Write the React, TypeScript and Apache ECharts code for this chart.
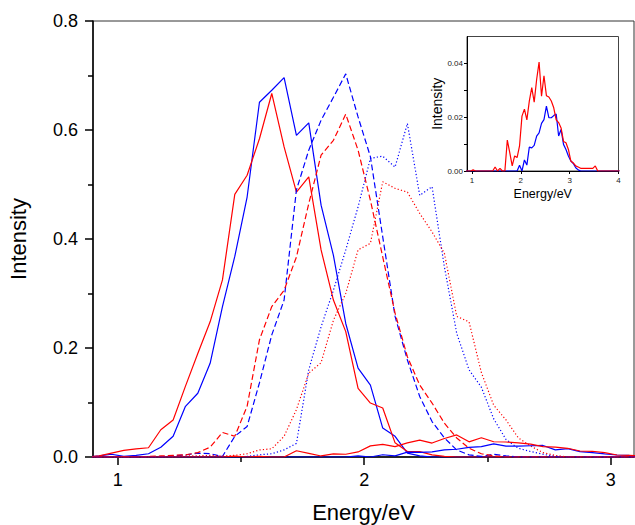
import React, { useEffect, useRef } from "react";
import * as echarts from "echarts";

// Energy grid (eV), 0.05 eV step
const energy: number[] = Array.from({ length: 64 }, (_, i) => +(0.875 + 0.05 * i).toFixed(3));

// Main spectra (indices follow energy[])
const redSolid = [0, 0.002, 0.007, 0.012, 0.015, 0.017, 0.05, 0.068, 0.13, 0.19, 0.248, 0.325, 0.482, 0.517, 0.584, 0.667, 0.569, 0.486, 0.514, 0.38, 0.288, 0.23, 0.126, 0.099, 0.09, 0.026, 0.01, 0.01, 0.004, 0.001, 0, 0, 0, 0, 0, 0, 0, 0, 0, 0, 0, 0, 0, 0, 0, 0];
const blueSolid = [0, 0.002, 0.005, 0.001, 0.003, 0.006, 0.018, 0.038, 0.093, 0.117, 0.172, 0.276, 0.368, 0.477, 0.651, 0.673, 0.696, 0.59, 0.613, 0.462, 0.37, 0.245, 0.163, 0.132, 0.053, 0.038, 0.007, 0.002, 0, 0, 0, 0, 0, 0, 0, 0, 0, 0, 0, 0, 0, 0, 0, 0, 0, 0];
const redDashed = [0, 0, 0, 0, 0, 0.001, 0.002, 0.003, 0.004, 0.008, 0.018, 0.045, 0.038, 0.093, 0.215, 0.276, 0.306, 0.367, 0.465, 0.554, 0.581, 0.629, 0.563, 0.471, 0.367, 0.264, 0.184, 0.132, 0.099, 0.062, 0.035, 0.016, 0.006, 0.002, 0, 0, 0, 0, 0, 0, 0, 0, 0, 0, 0, 0];
const blueDashed = [0, 0, 0, 0, 0, 0, 0, 0.002, 0.004, 0.007, 0.006, 0.001, 0.038, 0.056, 0.136, 0.224, 0.288, 0.49, 0.563, 0.618, 0.66, 0.703, 0.624, 0.551, 0.404, 0.258, 0.178, 0.111, 0.065, 0.035, 0.013, 0.004, 0.001, 0.005, 0.002, 0, 0, 0, 0, 0, 0, 0, 0, 0, 0, 0];
const redDotted = [0, 0, 0, 0, 0, 0, 0, 0, 0.002, 0.002, 0.003, 0.002, 0.003, 0.006, 0.013, 0.015, 0.038, 0.087, 0.154, 0.173, 0.251, 0.3, 0.38, 0.392, 0.505, 0.493, 0.486, 0.447, 0.413, 0.374, 0.258, 0.248, 0.155, 0.095, 0.068, 0.035, 0.02, 0.008, 0.003, 0, 0, 0, 0, 0, 0, 0];
const blueDotted = [0, 0, 0, 0, 0, 0, 0, 0, 0, 0, 0, 0, 0, 0.001, 0.004, 0.006, 0.013, 0.025, 0.16, 0.239, 0.306, 0.38, 0.459, 0.548, 0.552, 0.532, 0.612, 0.48, 0.496, 0.349, 0.227, 0.16, 0.128, 0.07, 0.032, 0.016, 0.01, 0.005, 0.001, 0, 0, 0, 0, 0, 0, 0];

// Weak spectra (shown in main plot and in the inset)
const redWeak = [0, 0, 0, 0.0004, 0, 0, 0, 0, 0, 0, 0, 0, 0.0015, 0, 0.001, 0, 0, 0.0115, 0.0068, 0.0019, 0.0056, 0.005, 0.0093, 0.0204, 0.023, 0.019, 0.026, 0.031, 0.0256, 0.034, 0.0405, 0.0278, 0.0354, 0.028, 0.0275, 0.026, 0.0235, 0.019, 0.018, 0.016, 0.011, 0.0105, 0.008, 0.0037, 0.003, 0.0019, 0.0015, 0.001, 0.001, 0.001, 0.001, 0.001, 0.001, 0.0019, 0, 0, 0, 0, 0, 0, 0, 0, 0, 0];
const blueWeak = [0, 0, 0, 0, 0, 0, 0, 0, 0, 0, 0, 0, 0, 0, 0, 0, 0, 0, 0, 0, 0, 0, 0.0021, 0, 0.0041, 0.0022, 0.0089, 0.0086, 0.0095, 0.013, 0.0142, 0.0177, 0.0191, 0.0241, 0.0198, 0.0198, 0.0206, 0.0212, 0.013, 0.0154, 0.0099, 0.008, 0.0056, 0.0037, 0.0028, 0.0012, 0.0004, 0, 0, 0, 0, 0, 0, 0, 0, 0, 0, 0, 0, 0, 0, 0, 0, 0];

// Tick values
const mainXLabels = [1, 2, 3];
const mainXMinor = [1.5, 2.5];
const insetXTicks = [1, 2, 3, 4];
const insetYTicks = [0, 0.01, 0.02, 0.03, 0.04];
const insetYLabels = [0, 0.02, 0.04];

const RED = "#ff0000";
const BLUE = "#0000ff";
const FONT = "Liberation Sans, Arial, sans-serif";

const pairs = (vals: number[]) => vals.map((v, i) => [energy[i], v]);

export default function App() {
  const ref = useRef<HTMLDivElement>(null);
  useEffect(() => {
    if (!ref.current) return;
    const chart = echarts.init(ref.current, undefined, { renderer: "svg" });
    const line = (name: string, data: number[], color: string, type: any, xi: number, yi: number) => ({
      name,
      type: "line",
      xAxisIndex: xi,
      yAxisIndex: yi,
      data: pairs(data),
      showSymbol: false,
      symbol: "none",
      clip: true,
      lineStyle: { color, width: 1.2, type },
      itemStyle: { color },
    });
    const dashed = [6, 3];
    const dotted = [1.2, 2.2];
    chart.setOption({
      animation: false,
      backgroundColor: "#fff",
      textStyle: { fontFamily: FONT },
      grid: [
        { left: 93, top: 21, width: 541, height: 436, show: true, borderColor: "#333", borderWidth: 1, backgroundColor: "transparent", containLabel: false, outerBoundsMode: "none" },
        { left: 467, top: 36.5, width: 151.5, height: 134.5, show: true, borderColor: "#444", borderWidth: 1, backgroundColor: "#fff", z: 5, containLabel: false, outerBoundsMode: "none" },
      ],
      xAxis: [
        {
          type: "value", gridIndex: 0, min: 0.9, max: 3.094, position: "bottom",
          axisLine: { show: true, onZero: false, lineStyle: { color: "#000", width: 1.5 } },
          axisTick: { show: true, customValues: mainXLabels, length: 8, lineStyle: { color: "#000", width: 1.5 } },
          axisLabel: { customValues: mainXLabels, fontSize: 18, color: "#000", margin: 14, fontFamily: FONT },
          splitLine: { show: false },
          name: "Energy/eV", nameLocation: "middle", nameGap: 44,
          nameTextStyle: { fontSize: 22, color: "#000", fontFamily: FONT },
        },
        {
          type: "value", gridIndex: 0, min: 0.9, max: 3.094, position: "bottom", offset: 0,
          axisLine: { show: false, onZero: false },
          axisTick: { show: true, customValues: mainXMinor, length: 5, lineStyle: { color: "#000", width: 1.5 } },
          axisLabel: { show: false },
          splitLine: { show: false },
        },
        {
          type: "value", gridIndex: 1, min: 0.9, max: 4, position: "bottom",
          axisLine: { show: true, onZero: false, lineStyle: { color: "#000", width: 1 } },
          axisTick: { show: true, customValues: insetXTicks, length: 3, lineStyle: { color: "#000", width: 1 } },
          axisLabel: { customValues: insetXTicks, fontSize: 8, color: "#222", margin: 5, fontFamily: FONT },
          splitLine: { show: false },
          name: "Energy/eV", nameLocation: "middle", nameGap: 16,
          nameTextStyle: { fontSize: 12.5, color: "#000", fontFamily: FONT },
          z: 6,
        },
      ],
      yAxis: [
        {
          type: "value", gridIndex: 0, min: 0, max: 0.8, interval: 0.2,
          axisLine: { show: true, onZero: false, lineStyle: { color: "#000", width: 1.5 } },
          axisTick: { show: true, length: 8, lineStyle: { color: "#000", width: 1.5 } },
          minorTick: { show: true, splitNumber: 2, length: 5, lineStyle: { color: "#000", width: 1.5 } },
          axisLabel: { fontSize: 18, color: "#000", margin: 15, fontFamily: FONT, formatter: (v: number) => v.toFixed(1) },
          splitLine: { show: false },
          name: "Intensity", nameLocation: "middle", nameGap: 64, nameRotate: 90,
          nameTextStyle: { fontSize: 22, color: "#000", fontFamily: FONT },
        },
        {
          type: "value", gridIndex: 1, min: 0, max: 0.05,
          axisLine: { show: true, onZero: false, lineStyle: { color: "#000", width: 1 } },
          axisTick: { show: true, customValues: insetYTicks, length: 3, lineStyle: { color: "#000", width: 1 } },
          axisLabel: { customValues: insetYLabels, fontSize: 8, color: "#222", margin: 4, fontFamily: FONT, formatter: (v: number) => v.toFixed(2) },
          splitLine: { show: false },
          name: "Intensity", nameLocation: "middle", nameGap: 23, nameRotate: 90,
          nameTextStyle: { fontSize: 14, color: "#000", fontFamily: FONT },
          z: 6,
        },
      ],
      series: [
        line("blue solid", blueSolid, BLUE, "solid", 0, 0),
        line("red solid", redSolid, RED, "solid", 0, 0),
        line("blue dashed", blueDashed, BLUE, dashed, 0, 0),
        line("red dashed", redDashed, RED, dashed, 0, 0),
        line("blue dotted", blueDotted, BLUE, dotted, 0, 0),
        line("red dotted", redDotted, RED, dotted, 0, 0),
        line("blue weak", blueWeak, BLUE, "solid", 0, 0),
        line("red weak", redWeak, RED, "solid", 0, 0),
        { ...line("blue weak inset", blueWeak, BLUE, "solid", 2, 1), z: 7 },
        { ...line("red weak inset", redWeak, RED, "solid", 2, 1), z: 8 },
      ],
    });
    return () => chart.dispose();
  }, []);
  return <div ref={ref} style={{ position: "fixed", left: 0, top: 0, width: 635, height: 525 }} />;
}
